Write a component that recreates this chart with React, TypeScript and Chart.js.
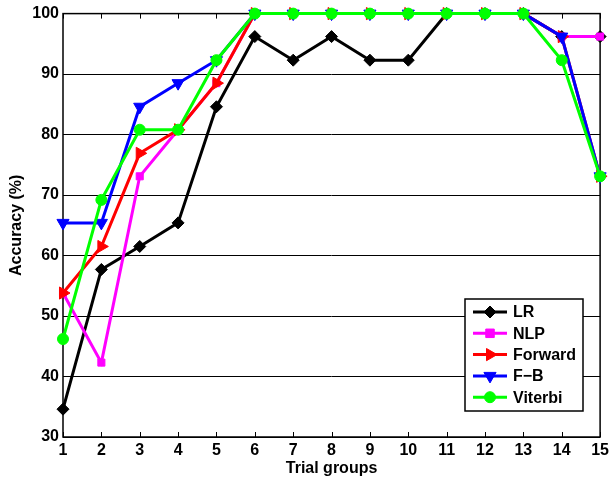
import { useEffect, useRef } from 'react';
import { Chart, registerables } from 'chart.js';
Chart.register(...registerables);

const trialGroups = [1, 2, 3, 4, 5, 6, 7, 8, 9, 10, 11, 12, 13, 14, 15];
const lrValues = [34.6, 57.7, 61.5, 65.4, 84.6, 96.2, 92.3, 96.2, 92.3, 92.3, 100, 100, 100, 96.2, 96.2];
const nlpValues = [53.8, 42.3, 73.1, 80.8, 88.5, 100, 100, 100, 100, 100, 100, 100, 100, 96.2, 96.2];
const forwardValues = [53.8, 61.5, 76.9, 80.8, 88.5, 100, 100, 100, 100, 100, 100, 100, 100, 96.2, 73.1];
const fbValues = [65.4, 65.4, 84.6, 88.5, 92.3, 100, 100, 100, 100, 100, 100, 100, 100, 96.2, 73.1];
const viterbiValues = [46.2, 69.2, 80.8, 80.8, 92.3, 100, 100, 100, 100, 100, 100, 100, 100, 92.3, 73.1];
const yTicks = [30, 40, 50, 60, 70, 80, 90, 100];

const seriesNames = ['LR', 'NLP', 'Forward', 'F\u2212B', 'Viterbi'];
const seriesColors = ['#000000', '#ff00ff', '#ff0000', '#0000ff', '#00ff00'];
const seriesMarkers = ['rectRot', 'rect', 'triangle', 'triangle', 'circle'];
const seriesRotations = [0, 0, 90, 180, 0];
const seriesRadii = [6, 5, 7, 7, 5.5];
const seriesValues = [lrValues, nlpValues, forwardValues, fbValues, viterbiValues];

const FONT = "'Liberation Sans', Arial, sans-serif";

function drawMarker(ctx: CanvasRenderingContext2D, style: string, r: number, rot: number, x: number, y: number, color: string) {
  ctx.save();
  ctx.fillStyle = color;
  ctx.strokeStyle = color;
  ctx.lineWidth = 1;
  ctx.translate(x, y);
  ctx.rotate((rot * Math.PI) / 180);
  ctx.beginPath();
  if (style === 'rectRot') {
    ctx.moveTo(0, -r); ctx.lineTo(r, 0); ctx.lineTo(0, r); ctx.lineTo(-r, 0); ctx.closePath();
  } else if (style === 'rect') {
    const s = r * 0.85;
    ctx.rect(-s, -s, 2 * s, 2 * s);
  } else if (style === 'triangle') {
    ctx.moveTo(0, -r); ctx.lineTo(r * 0.87, r * 0.5); ctx.lineTo(-r * 0.87, r * 0.5); ctx.closePath();
  } else {
    ctx.arc(0, 0, r, 0, Math.PI * 2);
  }
  ctx.fill();
  ctx.stroke();
  ctx.restore();
}

const framePlugin = {
  id: 'frame',
  beforeDatasetsDraw(chart: any) {
    const { ctx, chartArea } = chart;
    const { left, right, top, bottom } = chartArea;
    const xs = chart.scales.x;
    ctx.save();
    ctx.strokeStyle = '#000';
    ctx.lineWidth = 1;
    ctx.beginPath();
    for (const v of trialGroups) {
      const px = Math.round(xs.getPixelForValue(v)) + 0.5;
      ctx.moveTo(px, bottom);
      ctx.lineTo(px, bottom - 5);
      ctx.moveTo(px, top);
      ctx.lineTo(px, top + 5);
    }
    ctx.stroke();
    ctx.lineWidth = 1.5;
    ctx.strokeRect(left, top, right - left, bottom - top);
    ctx.restore();
  },
};

const legendPlugin = {
  id: 'boxLegend',
  afterDraw(chart: any) {
    const { ctx } = chart;
    const x0 = 465, y0 = 299, w = 118, h = 112;
    ctx.save();
    ctx.fillStyle = '#fff';
    ctx.fillRect(x0, y0, w, h);
    ctx.strokeStyle = '#000';
    ctx.lineWidth = 1.5;
    ctx.strokeRect(x0, y0, w, h);
    ctx.font = `bold 16px ${FONT}`;
    ctx.textBaseline = 'middle';
    for (let i = 0; i < seriesNames.length; i++) {
      const cy = y0 + 13 + i * 21.3;
      ctx.strokeStyle = seriesColors[i];
      ctx.lineWidth = 3;
      ctx.beginPath();
      ctx.moveTo(473, cy);
      ctx.lineTo(507, cy);
      ctx.stroke();
      drawMarker(ctx, seriesMarkers[i], seriesRadii[i], seriesRotations[i], 490, cy, seriesColors[i]);
      ctx.fillStyle = '#000';
      ctx.fillText(seriesNames[i], 513, cy + 1);
    }
    ctx.restore();
  },
};

export default function App() {
  const ref = useRef<HTMLCanvasElement>(null);
  useEffect(() => {
    if (!ref.current) return;
    const datasets = seriesValues.map((vals, i) => ({
      label: seriesNames[i],
      data: trialGroups.map((x, j) => ({ x, y: vals[j] })),
      borderColor: seriesColors[i],
      backgroundColor: seriesColors[i],
      borderWidth: 3,
      pointStyle: seriesMarkers[i] as any,
      pointRotation: seriesRotations[i],
      pointRadius: seriesRadii[i],
      pointBorderWidth: 1,
      pointBackgroundColor: seriesColors[i],
      pointBorderColor: seriesColors[i],
      tension: 0,
      clip: false as any,
      order: seriesValues.length - i,
    }));
    const chart = new Chart(ref.current, {
      type: 'line',
      data: { datasets },
      options: {
        animation: false,
        responsive: false,
        maintainAspectRatio: false,
        layout: { padding: { left: 0, top: 11, right: 10, bottom: 0 } },
        plugins: { legend: { display: false }, tooltip: { enabled: false } },
        scales: {
          x: {
            type: 'linear',
            min: 1,
            max: 15,
            afterFit: (s: any) => { s.height = 45; },
            afterBuildTicks: (s: any) => { s.ticks = trialGroups.map((v) => ({ value: v })); },
            grid: { display: false, drawTicks: false },
            border: { display: false },
            ticks: { color: '#000', font: { family: FONT, size: 16, weight: 'bold' }, padding: 4, autoSkip: false, maxRotation: 0 },
            title: { display: true, text: 'Trial groups', color: '#000', font: { family: FONT, size: 16, weight: 'bold' }, padding: { top: 0, bottom: 4 } },
          },
          y: {
            min: 30,
            max: 100,
            afterFit: (s: any) => { s.width = 63; },
            afterBuildTicks: (s: any) => { s.ticks = yTicks.map((v) => ({ value: v })); },
            grid: { color: '#000', lineWidth: 1, drawTicks: false },
            border: { display: false },
            ticks: { color: '#000', font: { family: FONT, size: 16, weight: 'bold' }, padding: 4 },
            title: { display: true, text: 'Accuracy (%)', color: '#000', font: { family: FONT, size: 16, weight: 'bold' }, padding: { top: 7, bottom: 0 } },
          },
        },
      },
      plugins: [framePlugin, legendPlugin],
    });
    return () => chart.destroy();
  }, []);
  return (
    <div style={{ position: 'absolute', left: 0, top: 0, width: 613, height: 482, background: '#fff' }}>
      <canvas ref={ref} width={613} height={482} style={{ width: 613, height: 482 }} />
    </div>
  );
}
